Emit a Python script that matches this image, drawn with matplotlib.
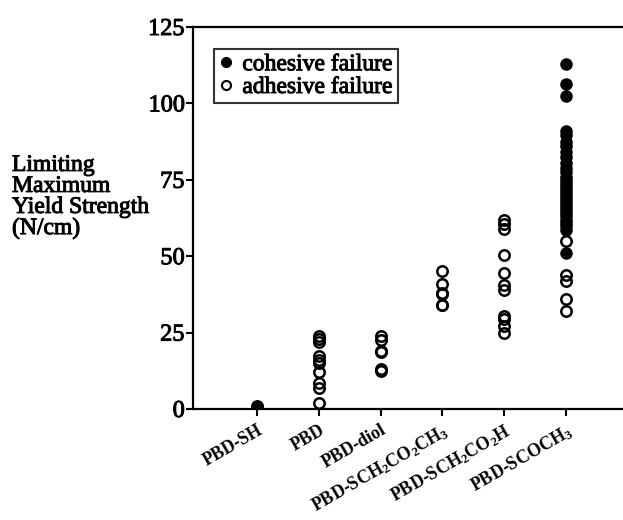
import matplotlib
matplotlib.use("Agg")
import matplotlib.pyplot as plt
from matplotlib.lines import Line2D
import matplotlib.transforms as mtrans
import matplotlib.patheffects as pe

plt.rcParams['font.family'] = ['Liberation Serif', 'DejaVu Serif']
plt.rcParams['mathtext.fontset'] = 'custom'
plt.rcParams['mathtext.rm'] = 'Liberation Serif:bold'
plt.rcParams['mathtext.it'] = 'Liberation Serif:bold'
plt.rcParams['mathtext.bf'] = 'Liberation Serif:bold'

categories = ['PBD-SH', 'PBD', 'PBD-diol',
              r'PBD-SCH$_\mathregular{2}$CO$_\mathregular{2}$CH$_\mathregular{3}$',
              r'PBD-SCH$_\mathregular{2}$CO$_\mathregular{2}$H',
              r'PBD-SCOCH$_\mathregular{3}$']

# cohesive failure (filled) values per category
cohesive = [
    [0.0],
    [],
    [],
    [],
    [],
    [113, 106.5, 102.5, 91, 89.5, 87.5, 86, 84, 82.5, 80.5, 79, 77.5, 76, 75,
     74, 73, 72, 71, 70, 69, 68, 67, 66, 65, 64, 63, 62, 61, 60, 58.5, 51],
]
# adhesive failure (open) values per category
adhesive = [
    [0.0, 0.5, 1.0],
    [24, 23, 22, 17.5, 16, 15, 12, 8.5, 7, 2],
    [24, 22.5, 19, 18.5, 13, 12.5],
    [45, 41, 38, 37.5, 34, 34],
    [62, 60.5, 59, 50.5, 44.5, 40.5, 39, 30.5, 29.5, 27, 25],
    [55, 44, 42, 36, 32],
]
yticks = [0, 25, 50, 75, 100, 125]

heavy = [pe.withStroke(linewidth=0.7, foreground='black')]

fig = plt.figure(figsize=(6.23, 5.2), dpi=100)
ax = fig.add_axes([193/623, (520-409)/520, (640-193)/623, (409-27)/520])

for i, (c, a) in enumerate(zip(cohesive, adhesive)):
    if c:
        ax.plot([i]*len(c), c, 'o', mfc='black', mec='black', ms=8, mew=1,
                linestyle='none', zorder=2)
    if a:
        ax.plot([i]*len(a), a, 'o', mfc='none', mec='black', ms=7.5, mew=1.8,
                linestyle='none', zorder=3)

ax.set_xlim(-1.04, 6.2)
ax.set_ylim(0, 125)
ax.set_yticks(yticks)
ax.set_yticklabels([str(t) for t in yticks], fontsize=17.5)
ax.set_xticks(range(len(categories)))
ax.set_xticklabels(categories, rotation=30, ha='right', rotation_mode='anchor',
                   fontsize=13, fontweight='bold')
offset = mtrans.ScaledTranslation(9/72, -2/72, fig.dpi_scale_trans)
for lbl in ax.get_xticklabels():
    lbl.set_transform(lbl.get_transform() + offset)
for lbl in ax.get_yticklabels():
    lbl.set_path_effects(heavy)

for s in ['left', 'top', 'bottom']:
    ax.spines[s].set_linewidth(1.6)
ax.spines['right'].set_visible(False)
ax.tick_params(axis='both', direction='out', length=5, width=1.5)
ax.tick_params(axis='y', pad=1)
ax.tick_params(axis='x', pad=4)

handles = [Line2D([], [], marker='o', ls='none', mfc='black', mec='black', ms=7),
           Line2D([], [], marker='o', ls='none', mfc='white', mec='black', ms=6.5, mew=1.5)]
leg = ax.legend(handles, ['cohesive failure', 'adhesive failure'],
                loc='upper left', bbox_to_anchor=((214-193)/447, 1-(49-27)/382),
                prop={'size': 17}, frameon=True, fancybox=False,
                handlelength=0.6, handletextpad=0.4, borderpad=0.2,
                labelspacing=0.05, borderaxespad=0)
leg.get_frame().set_edgecolor('black')
leg.get_frame().set_linewidth(1.5)
for t in leg.get_texts():
    t.set_path_effects(heavy)

fig.text(12/623, 1-197/520, 'Limiting\nMaximum\nYield Strength\n(N/cm)',
         ha='left', va='center', fontsize=17, linespacing=1.0,
         path_effects=heavy)

fig.savefig('out.png', dpi=100)
